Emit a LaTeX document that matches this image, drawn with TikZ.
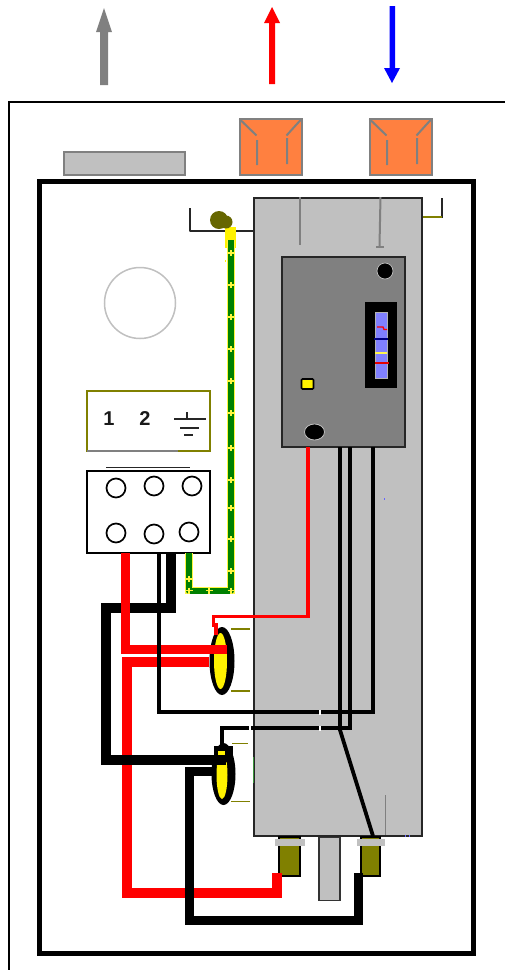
\documentclass[tikz,border=0pt]{standalone}
\usepackage{fontspec}
\usetikzlibrary{shapes.geometric}
\setmainfont{Liberation Sans}
\definecolor{orangebox}{RGB}{255,128,64}
\definecolor{panelgray}{RGB}{192,192,192}
\definecolor{darkpanel}{RGB}{128,128,128}
\definecolor{oliveline}{RGB}{128,128,0}
\definecolor{brownblob}{RGB}{102,102,0}
\definecolor{groundgreen}{RGB}{0,128,0}
\definecolor{winblue}{RGB}{128,128,255}
\tikzset{
  px/.style={x=1pt,y=-1pt},
  box/.style={draw,minimum width=0pt,minimum height=0pt,inner sep=0pt,outer sep=0pt,anchor=north west},
  hole/.style={circle,draw=black,line width=1.7pt,fill=white,minimum size=19pt,inner sep=0pt},
  thickblack/.style={draw=black,line width=10pt,line join=miter},
  thickred/.style={draw=red,line width=10pt,line join=miter},
  thinblack/.style={draw=black,line width=3.8pt,line join=miter},
  gline/.style={draw=darkpanel,line width=2pt},
  tick/.style={draw=oliveline,line width=1.8pt},
  plug/.style={draw=black,line width=1.6pt,fill=oliveline},
  washer/.style={draw=none,fill=panelgray},
  digit/.style={font=\fontsize{20}{20}\selectfont\bfseries,text=black!90,inner sep=0pt}
}
\begin{document}
\begin{tikzpicture}[px]
\useasboundingbox (0,0) rectangle (504,970);
\fill[white] (0,0) rectangle (504,970);
% flow arrows
\fill[darkpanel] (100,85)--(100,32)--(96,32)--(104,8)--(112,32)--(108,32)--(108,85)--cycle;
\fill[red] (269,84)--(269,23)--(264,23)--(272,7)--(280,23)--(275,23)--(275,84)--cycle;
\fill[blue] (389.5,6)--(389.5,68)--(384,68)--(392,83)--(400,68)--(395,68)--(395,6)--cycle;
% outer frame
\draw[black,line width=2.2pt] (9,971)--(9,102)--(505,102);
% roof pieces
\node[box,draw=darkpanel,fill=panelgray,line width=2pt,minimum width=121pt,minimum height=23pt] (flue) at (63.5,151.5) {};
\node[box,draw=darkpanel,fill=orangebox,line width=2pt,minimum width=62pt,minimum height=56pt] (hotbox) at (239.5,119) {};
\node[box,draw=darkpanel,fill=orangebox,line width=2pt,minimum width=62pt,minimum height=56pt] (coldbox) at (369.5,119) {};
\foreach \o in {239.5,369.5}{
  \draw[gline] (\o,119)--(\o+17,135.5) (\o+62,119)--(\o+47,135.5)
               (\o+17.5,140)--(\o+17.5,165) (\o+47.5,138)--(\o+47.5,164);
}
% cabinet
\node[box,draw=black,line width=5pt,fill=white,minimum width=434pt,minimum height=772pt] (cabinet) at (39.5,181.5) {};
% left bracket & right bracket
\coordinate (brtop) at (189.5,208);
\coordinate (brcorner) at (189.5,230.5);
\coordinate (brend) at (253,230.5);
\draw[black!85,line width=2pt,line join=round] (brtop)--(brcorner)--(brend);
\draw[black!85,line width=2pt] (442,198)--(442,217.5);
\draw[tick] (422,217)--(442,217);
% main panel
\node[box,draw=black!85,fill=panelgray,line width=2pt,minimum width=168pt,minimum height=638pt] (panel) at (253.5,197.5) {};
\draw[gline] (299.5,197)--(299.5,245);
\draw[gline] (380.5,197)--(379.5,246);
\draw[darkpanel,line width=1.4pt] (376,247)--(384,247);
\draw[darkpanel,line width=1.8pt] (385.5,795)--(385.5,835);
\draw[groundgreen!70!panelgray,line width=1pt] (253.5,757)--(253.5,783);
\fill[blue!60!white] (383.5,498) rectangle (385,499.5);
\draw[blue!60!white,line width=1pt] (405.5,835) -- (405.5,836.5) (409.5,835)--(409.5,836.5);
% control box
\node[box,draw=black!85,fill=darkpanel,line width=2pt,minimum width=123pt,minimum height=190pt] (control) at (281.5,257) {};
\node[circle,fill=black,draw=panelgray,line width=.7pt,minimum size=16pt,inner sep=0pt] (knob) at (385,271) {};
\node[box,draw=none,fill=black,minimum width=32pt,minimum height=86pt] (window) at (365,302) {};
\node[box,draw=darkpanel!60!white,fill=winblue,line width=.5pt,minimum width=12pt,minimum height=66pt] (scale) at (375,312) {};
\draw[red,line width=1.3pt] (377,327)--(383,327)--(384,329.5)--(387,329.5);
\draw[blue!50!black,line width=1.4pt] (374,339)--(388,339);
\draw[yellow!70!white,line width=1.6pt] (375,353)--(387,353);
\draw[red!90!black,line width=1.5pt] (375,363)--(389,363);
\node[draw=black,fill=yellow,line width=1.6pt,minimum width=12pt,minimum height=10pt,inner sep=0pt,rounded corners=1pt] (led) at (307.5,384) {};
\node[ellipse,draw=panelgray,fill=black,line width=.8pt,minimum width=20pt,minimum height=16pt,inner sep=0pt] (port) at (314.5,432) {};
% circle
\node[circle,draw=panelgray,fill=white,line width=1.5pt,minimum size=71pt,inner sep=0pt] (gauge) at (140,303) {};
% legend
\node[box,draw=oliveline,fill=white,line width=1.8pt,minimum width=123pt,minimum height=60pt] (legend) at (87,391) {};
\draw[darkpanel,line width=1.8pt] (87,451)--(178,451);
\node[digit] (one) at (109,418.5) {1};
\node[digit] (two) at (145,418.5) {2};
\draw[black!85,line width=1.6pt] (187,412)--(187,419) (174,419)--(206,419) (180,428)--(199,428) (184,435)--(193,435);
% terminal block
\draw[black!85,line width=1.7pt] (106,467.5)--(190,467.5);
\node[box,draw=black,fill=white,line width=1.7pt,minimum width=123pt,minimum height=82pt] (block) at (87,471) {};
\node[hole] (h1) at (116,488) {};
\node[hole] (h2) at (154,486) {};
\node[hole] (h3) at (192,486) {};
\node[hole] (h4) at (116,533) {};
\node[hole] (h5) at (154,534) {};
\node[hole] (h6) at (189,532) {};
% bottom connectors
\node[box,plug,minimum width=21pt,minimum height=39pt] (plugL) at (279,837) {};
\node[box,plug,minimum width=19pt,minimum height=39pt] (plugR) at (361,837) {};
\node[box,washer,minimum width=30pt,minimum height=7pt] (washL) at (275,838.5) {};
\node[box,washer,minimum width=28pt,minimum height=7pt] (washR) at (357,838.5) {};
\node[box,draw=black!80,fill=panelgray,line width=1.6pt,minimum width=21pt,minimum height=63pt] (drain) at (319,837.5) {};
% green earth wire
\coordinate (gA) at (189,553);
\coordinate (gB) at (189,590.5);
\coordinate (gC) at (231,590.5);
\coordinate (gD) at (231,240);
\fill[yellow] (225,227) rectangle (236,248);
\fill[yellow] (224.5,260) rectangle (226,261.5);
\draw[yellow!75!white,line width=7.5pt,line join=miter] (gA)--(gB)--(gC)--(gD);
\draw[groundgreen,line width=6pt,line join=round] (gA)--(gB)--(gC)--(gD);
\foreach \y in {253,285,317,349,381,413,448,480,508,539,571}{
  \draw[yellow!75!white,line width=1.4pt] (227.5,\y)--(234.5,\y) (231,\y-3)--(231,\y+3);}
\foreach \x in {189,209,231}{
  \draw[yellow!75!white,line width=1.4pt] (\x-3.5,590.5)--(\x+3.5,590.5) (\x,587.5)--(\x,593.5);}
\draw[yellow!75!white,line width=1.4pt] (185.5,579)--(192.5,579) (189,576)--(189,582);
% earth blob
\node[circle,fill=brownblob,minimum size=18pt,inner sep=0pt] (blobA) at (219,220) {};
\node[circle,fill=brownblob,minimum size=13pt,inner sep=0pt] (blobB) at (226,222) {};
% wires behind the ovals
\coordinate (r2A) at (209,661.5);
\coordinate (r2B) at (127,661.5);
\coordinate (r2C) at (127,892.5);
\coordinate (r2D) at (276.5,892.5);
\coordinate (r2E) at (276.5,873);
\draw[thickred] (r2A)--(r2B)--(r2C)--(r2D)--(r2E);
% ovals
\node[ellipse,fill=black,minimum width=25pt,minimum height=68pt,inner sep=0pt] (ovalT) at (222,661) {};
\node[ellipse,fill=yellow,minimum width=13pt,minimum height=56pt,inner sep=0pt] (yellowT) at (220.5,661) {};
\node[ellipse,fill=black,minimum width=24pt,minimum height=62pt,inner sep=0pt] (ovalB) at (223.5,774) {};
\node[ellipse,fill=yellow,minimum width=11pt,minimum height=48pt,inner sep=0pt] (yellowB) at (222,775) {};
\fill[black] (214,746) rectangle (233,762);
\fill[yellow] (218,751) rectangle (225,755);
\draw[tick] (231,629)--(250,629) (231,691)--(250,691) (232,743.5)--(248,743.5) (231,801.5)--(250,801.5);
% thick wires
\coordinate (rA) at (125.5,553);
\coordinate (rB) at (125.5,649);
\coordinate (rC) at (227,649);
\draw[thickred,line width=9pt] (rA)--(rB)--(rC);
\coordinate (bA) at (170.5,553);
\coordinate (bB) at (170.5,608);
\coordinate (bC) at (105.5,608);
\coordinate (bD) at (105.5,759.5);
\coordinate (bE) at (226,759.5);
\draw[thickblack] (bA)--(bB)--(bC)--(bD)--(bE);
\draw[red,line width=9pt] (125.5,602)--(125.5,614);
\coordinate (cA) at (212,771.5);
\coordinate (cB) at (189.5,771.5);
\coordinate (cC) at (189.5,920);
\coordinate (cD) at (358.5,920);
\coordinate (cE) at (358.5,873);
\draw[thickblack,line width=9pt] (cA)--(cB)--(cC)--(cD)--(cE);
% thin wires
\coordinate (tA) at (159,553);
\coordinate (tB) at (159,712);
\coordinate (tC) at (373,712);
\coordinate (tD) at (373,447);
\draw[thinblack] (tA)--(tB)--(tC)--(tD);
\coordinate (uA) at (222,746);
\coordinate (uB) at (222,728);
\coordinate (uC) at (350,728);
\coordinate (uD) at (350,447);
\draw[thinblack] (uA)--(uB)--(uC)--(uD);
\coordinate (vA) at (340,447);
\coordinate (vB) at (340,730);
\coordinate (vC) at (373,836);
\draw[thinblack] (vA)--(vB)--(vC);
\draw[white,line width=2pt] (320,709.5)--(320,714.5) (249.5,725.5)--(249.5,730.5) (320,725.5)--(320,730.5);
\draw[red,line width=3.6pt,line join=miter] (308,447)--(308,616.5)--(213.5,616.5)--(213.5,625)--(216,625)--(216,635);
\end{tikzpicture}
\end{document}
